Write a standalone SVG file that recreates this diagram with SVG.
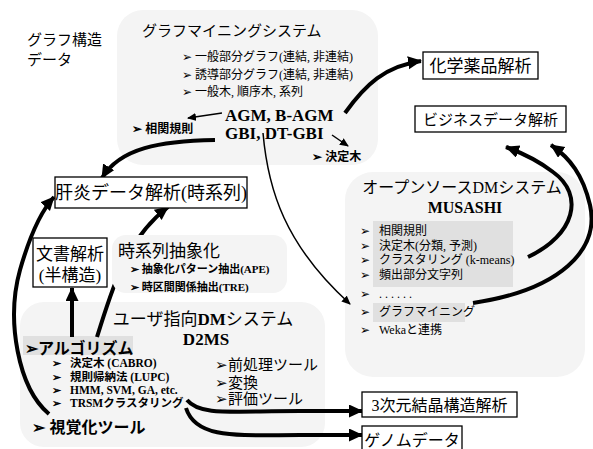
<svg xmlns="http://www.w3.org/2000/svg" width="593" height="449" viewBox="0 0 593 449">
<style>
.panel{fill:#f4f4f4;stroke:none}
.hl{fill:#e0e0e0;stroke:none}
.box{fill:#fff;stroke:#000;stroke-width:1.3}
.serif{font-family:"Liberation Serif","Noto Sans CJK JP",serif;fill:#000}
.sans{font-family:"Liberation Sans","Noto Sans CJK JP",sans-serif;fill:#000}
.b{font-weight:bold}
.thick{fill:none;stroke:#000;stroke-width:4;stroke-linecap:butt}
.thin{fill:none;stroke:#000;stroke-width:1.5}
</style>
<defs>
<marker id="ah" markerUnits="userSpaceOnUse" markerWidth="16" markerHeight="14" refX="13" refY="6.5" orient="auto">
<path d="M0,0 L14,6.5 L0,13 Z" fill="#000"/>
</marker>
<marker id="as" markerUnits="userSpaceOnUse" markerWidth="10" markerHeight="10" refX="8" refY="4" orient="auto">
<path d="M0,0 L9,4 L0,8 Z" fill="#000"/>
</marker>
</defs>

<!-- panels -->
<g id="panel-graphmining"><rect class="panel" x="117" y="10" width="261" height="155" rx="26"/></g>
<g id="panel-musashi"><rect class="panel" x="345" y="172" width="240" height="205" rx="28"/>
<rect class="hl" x="373" y="221" width="140" height="66"/>
<rect class="hl" x="373" y="303" width="92" height="19"/></g>
<g id="panel-d2ms"><rect class="panel" x="20" y="302" width="305" height="145" rx="24"/>
<rect class="hl" x="23" y="336" width="110" height="19"/></g>

<!-- connector hidden under time-series panel -->
<g id="connectors-under">
<path class="thick" d="M97,337 C112,290 125,240 168,207" marker-end="url(#ah)"/>
</g>

<g id="panel-timeseries"><rect class="panel" x="112" y="235" width="175" height="58" rx="14"/></g>

<g id="connectors">
<path class="thick" d="M345,113 C365,85 385,66 421,61" marker-end="url(#ah)"/>
<path class="thick" d="M215,140 C160,141 120,148 102,178" marker-end="url(#ah)"/>
<path class="thin" d="M222,113 L188,118" marker-end="url(#as)"/>
<path class="thin" d="M332,135 L348,146" marker-end="url(#as)"/>
<path class="thin" d="M263,133 C268,190 285,245 350,304" marker-end="url(#as)"/>
<path class="thick" d="M528,257 C575,235 585,195 553,172 C540,162 525,154 506,147" marker-end="url(#ah)"/>
<path class="thick" d="M473,303 C560,290 600,250 590,205 C583,175 570,158 551,145" marker-end="url(#ah)"/>
<path class="thick" d="M49,414 C18,388 6,320 20,270 C30,235 42,210 54,197" marker-end="url(#ah)"/>
<path class="thick" d="M72,337 L72,288" marker-end="url(#ah)"/>
<path class="thick" d="M187,400 C200,416 230,411 300,411 L362,411" marker-end="url(#ah)"/>
<path class="thick" d="M186,408 C196,440 240,435 300,435 L362,435" marker-end="url(#ah)"/>
</g>

<!-- graph structure data label -->
<g id="label-graphdata">
<text class="serif" x="27" y="45" font-size="15">グラフ構造</text>
<text class="serif" x="27" y="65" font-size="15">データ</text>
</g>

<g id="node-graphmining">
<text class="serif" x="142" y="36" font-size="15">グラフマイニングシステム</text>
<text class="serif" x="182" y="61" font-size="12">➢  一般部分グラフ(連結, 非連結)</text>
<text class="serif" x="182" y="79" font-size="12">➢  誘導部分グラフ(連結, 非連結)</text>
<text class="serif" x="182" y="96" font-size="12">➢  一般木, 順序木, 系列</text>
<text class="serif b" x="225" y="121" font-size="17">AGM, B-AGM</text>
<text class="serif b" x="225" y="139" font-size="17">GBI, DT-GBI</text>
<text class="sans b" x="132" y="133" font-size="12">➢  相関規則</text>
<text class="sans b" x="312" y="161" font-size="12">➢  決定木</text>
</g>

<g id="node-chem"><rect class="box" x="423" y="52" width="115" height="27"/>
<text class="serif" x="480.5" y="72" font-size="17" text-anchor="middle">化学薬品解析</text></g>

<g id="node-business"><rect class="box" x="415" y="106" width="151" height="26"/>
<text class="serif" x="490.5" y="125" font-size="15" text-anchor="middle">ビジネスデータ解析</text></g>

<g id="node-hepatitis"><rect class="box" x="55" y="177" width="192" height="31"/>
<text class="serif" x="151" y="199" font-size="18" text-anchor="middle">肝炎データ解析(時系列)</text></g>

<g id="node-document"><rect class="box" x="33" y="238" width="74" height="49"/>
<text class="serif" x="70" y="260" font-size="17" text-anchor="middle">文書解析</text>
<text class="serif" x="70" y="281" font-size="17" text-anchor="middle">(半構造)</text></g>

<g id="node-timeseries">
<text class="serif" x="118" y="257" font-size="17">時系列抽象化</text>
<text class="serif b" x="130" y="273" font-size="11">➢  抽象化パターン抽出(APE)</text>
<text class="serif b" x="130" y="291" font-size="11">➢  時区間関係抽出(TRE)</text>
</g>

<g id="node-musashi">
<text class="serif" x="462" y="193" font-size="16" text-anchor="middle">オープンソースDMシステム</text>
<text class="serif b" x="465" y="213" font-size="16" text-anchor="middle">MUSASHI</text>
<text class="serif" x="360" y="235" font-size="12">➢</text><text class="serif" x="379" y="235" font-size="12">相関規則</text>
<text class="serif" x="360" y="250" font-size="12">➢</text><text class="serif" x="379" y="250" font-size="12">決定木(分類, 予測)</text>
<text class="serif" x="360" y="264" font-size="12">➢</text><text class="serif" x="379" y="264" font-size="12">クラスタリング (k-means)</text>
<text class="serif" x="360" y="279" font-size="12">➢</text><text class="serif" x="379" y="279" font-size="12">頻出部分文字列</text>
<text class="serif" x="360" y="298" font-size="12">➢</text><text class="serif" x="379" y="298" font-size="12">. . . . . .</text>
<text class="serif" x="360" y="316" font-size="12">➢</text><text class="serif" x="379" y="316" font-size="12">グラフマイニング</text>
<text class="serif" x="360" y="334" font-size="12">➢</text><text class="serif" x="379" y="334" font-size="12">Wekaと連携</text>
</g>

<g id="node-d2ms">
<text class="serif" x="203" y="325" font-size="17" text-anchor="middle">ユーザ指向<tspan font-weight="bold">DM</tspan>システム</text>
<text class="serif b" x="206" y="345" font-size="17" text-anchor="middle">D2MS</text>
<text class="sans b" x="25" y="354" font-size="16">➢アルゴリズム</text>
<text class="serif b" x="52" y="367" font-size="11">➢</text><text class="serif b" x="70" y="367" font-size="11.5">決定木 (CABRO)</text>
<text class="serif b" x="52" y="381" font-size="11">➢</text><text class="serif b" x="70" y="381" font-size="11.5">規則帰納法 (LUPC)</text>
<text class="serif b" x="52" y="394" font-size="11">➢</text><text class="serif b" x="70" y="394" font-size="11.5">HMM, SVM, GA, etc.</text>
<text class="serif b" x="52" y="407" font-size="11">➢</text><text class="serif b" x="70" y="407" font-size="11.5">TRSMクラスタリング</text>
<text class="sans b" x="32" y="433" font-size="16">➢  視覚化ツール</text>
<text class="sans" x="215" y="370" font-size="15">➢前処理ツール</text>
<text class="sans" x="215" y="388" font-size="15">➢変換</text>
<text class="sans" x="215" y="404" font-size="15">➢評価ツール</text>
</g>

<g id="node-3d"><rect class="box" x="362" y="392" width="155" height="25"/>
<text class="serif" x="439.5" y="411" font-size="16" text-anchor="middle">3次元結晶構造解析</text></g>

<g id="node-genome"><rect class="box" x="362" y="426" width="100" height="30"/>
<text class="serif" x="412" y="446" font-size="16" text-anchor="middle">ゲノムデータ</text></g>
</svg>
